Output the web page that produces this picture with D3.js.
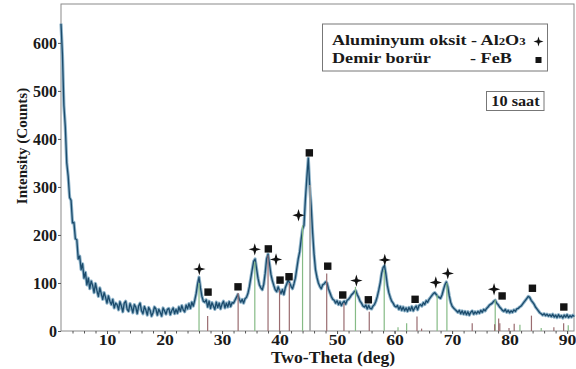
<!DOCTYPE html>
<html>
<head>
<meta charset="utf-8">
<script src="https://cdn.jsdelivr.net/npm/d3@7"></script>
<style>
  html, body { margin: 0; padding: 0; background: #fff; }
  svg { display: block; }
  text { font-family: "Liberation Serif", "Times New Roman", serif; font-weight: bold; fill: #1a1a1a; }
</style>
</head>
<body>
<svg id="chart" width="576" height="369"></svg>
<script>
// XRD scan: start angle and step of the measured counts (2θ, degrees)
const scanStart = 2.0;
const scanStep = 0.25;
const counts = [
  640, 575, 470, 425, 350, 322, 278, 272, 225, 226, 192, 190, 150, 156, 128, 140, 110, 122, 96, 110,
  88, 104, 95, 80, 99, 84, 72, 90, 78, 66, 80, 70, 58, 73, 62, 55, 66, 48, 58, 55,
  44, 61, 52, 40, 58, 62, 45, 41, 57, 49, 38, 55, 50, 36, 52, 58, 42, 36, 51, 44,
  33, 49, 43, 31, 38, 50, 46, 33, 45, 39, 31, 48, 42, 35, 45, 47, 34, 42, 48, 36,
  45, 37, 50, 41, 53, 44, 40, 54, 46, 57, 47, 60, 52, 64, 78, 98, 112, 90, 72, 62,
  60, 65, 50, 62, 47, 59, 52, 45, 60, 49, 58, 46, 56, 62, 48, 58, 50, 61, 51, 59,
  58, 64, 70, 76, 66, 60, 66, 58, 67, 70, 78, 92, 110, 128, 145, 150, 130, 110, 96, 90,
  86, 97, 120, 150, 160, 140, 118, 105, 95, 86, 82, 92, 84, 78, 86, 76, 90, 98, 106, 100,
  93, 88, 98, 110, 130, 150, 165, 190, 212, 220, 275, 320, 360, 300, 260, 205, 160, 128, 112, 100,
  93, 88, 96, 98, 102, 100, 88, 80, 72, 66, 64, 58, 63, 55, 61, 53, 59, 62, 56, 64,
  66, 70, 75, 78, 82, 84, 76, 70, 62, 58, 52, 50, 54, 46, 53, 47, 46, 52, 55, 62,
  72, 85, 100, 120, 132, 136, 118, 95, 80, 70, 62, 58, 52, 50, 53, 45, 51, 43, 50, 42,
  48, 41, 49, 43, 51, 42, 48, 52, 44, 53, 55, 52, 59, 55, 63, 60, 66, 70, 74, 78,
  80, 76, 72, 70, 68, 75, 86, 96, 102, 92, 74, 60, 52, 48, 45, 42, 39, 43, 36, 42,
  35, 41, 34, 40, 33, 39, 42, 35, 40, 36, 41, 37, 43, 39, 45, 42, 47, 50, 54, 56,
  58, 62, 64, 58, 55, 50, 47, 43, 41, 45, 39, 43, 38, 42, 39, 44, 41, 46, 47, 50,
  52, 56, 60, 64, 68, 72, 70, 64, 60, 56, 50, 46, 42, 38, 36, 33, 36, 32, 35, 31,
  34, 30, 35, 29, 33, 28, 34, 29, 32, 27, 33, 29, 34, 28, 32, 29, 33, 30
];

// Reference pattern sticks: [2θ, intensity]
const al2o3Sticks = [[26.0, 100], [35.7, 144], [44.0, 220], [53.2, 92], [58.2, 127], [60.6, 8], [62.1, 16],
  [67.4, 75], [69.1, 100], [77.5, 65], [81.8, 13], [85.5, 6], [90.2, 12]];
const febSticks = [[27.5, 31], [32.8, 79], [38.0, 158], [40.0, 85], [41.7, 100], [48.2, 120], [51.2, 58],
  [55.6, 40], [63.9, 30], [64.7, 5], [73.5, 16], [77.4, 14], [78.1, 26], [78.3, 16], [79.9, 6],
  [80.8, 15], [83.8, 32], [87.7, 8], [89.4, 16]];
const feSticks = [[45.3, 304]];

// Phase markers above the peaks: [2θ, counts]
const al2o3Marks = [[26.05, 129], [35.69, 170], [39.39, 149], [43.30, 241], [53.36, 105], [58.30, 148],
  [67.17, 101], [69.25, 120], [77.30, 87]];
const febMarks = [[27.57, 81], [32.78, 92], [38.05, 171], [40.09, 106], [41.65, 113], [45.18, 371],
  [48.38, 135], [50.99, 75], [55.44, 65], [63.57, 66], [78.70, 73], [83.97, 89], [89.43, 50]];

const xTicks = [10, 20, 30, 40, 50, 60, 70, 80, 90];
const yTicks = [0, 100, 200, 300, 400, 500, 600];

const svg = d3.select("#chart");
const plotLeft = 61, plotRight = 574, plotTop = 4, plotBottom = 331;

const x = d3.scaleLinear().domain([2, 91.2]).range([plotLeft, plotRight]);
const y = d3.scaleLinear().domain([0, 681]).range([plotBottom, plotTop]);

const scan = counts.map((c, i) => [scanStart + i * scanStep, c]);

// frame
svg.append("rect")
  .attr("x", plotLeft).attr("y", plotTop)
  .attr("width", plotRight - plotLeft).attr("height", plotBottom - plotTop)
  .attr("fill", "none").attr("stroke", "#8a8a8a").attr("stroke-width", 1);

// measured trace: soft halo plus dark line
const line = d3.line().x(d => x(d[0])).y(d => y(d[1]));
svg.append("path").datum(scan)
  .attr("d", line).attr("fill", "none")
  .attr("stroke", "#8fb4ca").attr("stroke-width", 3.2).attr("stroke-linejoin", "round");
svg.append("path").datum(scan)
  .attr("d", line).attr("fill", "none")
  .attr("stroke", "#1b4b6c").attr("stroke-width", 1.3).attr("stroke-linejoin", "round");

// reference sticks
function sticks(data, color, width) {
  svg.append("g").selectAll("line").data(data).join("line")
    .attr("x1", d => x(d[0])).attr("x2", d => x(d[0]))
    .attr("y1", y(0)).attr("y2", d => y(d[1]))
    .attr("stroke", color).attr("stroke-width", width);
}
sticks(al2o3Sticks, "#86bb86", 1.2);
sticks(febSticks, "#9a6c70", 1.2);
sticks(feSticks, "#a0a0a0", 1.6);

// four-point star
function starPath(r, ri) {
  const pts = [];
  for (let k = 0; k < 8; k++) {
    const a = k * Math.PI / 4 - Math.PI / 2;
    const rr = k % 2 === 0 ? r : ri;
    pts.push([rr * Math.cos(a), rr * Math.sin(a)]);
  }
  return "M" + pts.map(p => p[0].toFixed(2) + "," + p[1].toFixed(2)).join("L") + "Z";
}

svg.append("g").selectAll("path").data(al2o3Marks).join("path")
  .attr("d", starPath(6.2, 2))
  .attr("transform", d => `translate(${x(d[0])},${y(d[1])})`)
  .attr("fill", "#111");

svg.append("g").selectAll("rect").data(febMarks).join("rect")
  .attr("x", d => x(d[0]) - 3.7).attr("y", d => y(d[1]) - 3.7)
  .attr("width", 7.4).attr("height", 7.4)
  .attr("fill", "#141414");

// axes
const gx = svg.append("g").attr("transform", `translate(0,${plotBottom})`)
  .call(d3.axisBottom(x).tickValues(xTicks).tickSize(3).tickPadding(0));
gx.select(".domain").remove();
gx.selectAll("line").attr("stroke", "#555");
gx.selectAll("text").style("font-size", "15px").attr("fill", "#1a1a1a")
  .attr("transform", "scale(1.18,1)");

const gxm = svg.append("g").attr("transform", `translate(0,${plotBottom})`)
  .call(d3.axisBottom(x).tickValues(d3.range(4, 91, 2)).tickSize(2.5).tickFormat(""));
gxm.select(".domain").remove();
gxm.selectAll("line").attr("stroke", "#555");

const gy = svg.append("g").attr("transform", `translate(${plotLeft},0)`)
  .call(d3.axisLeft(y).tickValues(yTicks).tickSize(3).tickPadding(1));
gy.select(".domain").remove();
gy.selectAll("line").attr("stroke", "#555");
gy.selectAll("text").style("font-size", "16px").attr("fill", "#1a1a1a");

// text drawn at (px, py) and widened horizontally
function wideText(px, py, sx, size, anchor) {
  return svg.append("text")
    .attr("transform", `translate(${px},${py}) scale(${sx},1)`)
    .attr("text-anchor", anchor || "start")
    .style("font-size", size + "px");
}

// axis titles
wideText(333, 362.5, 1.1, 16, "middle").text("Two-Theta (deg)");

svg.append("text")
  .attr("transform", "translate(22,146) rotate(-90)")
  .attr("text-anchor", "middle")
  .attr("dominant-baseline", "central")
  .style("font-size", "15px")
  .text("Intensity (Counts)");

// legend
svg.append("rect").attr("x", 322.5).attr("y", 24).attr("width", 225).attr("height", 47)
  .attr("fill", "#fff").attr("stroke", "#777").attr("stroke-width", 1);
const t1 = wideText(332, 45, 1.17, 15.5);
t1.append("tspan").text("Aluminyum oksit - Al");
t1.append("tspan").style("font-size", "11px").text("2");
t1.append("tspan").text("O");
t1.append("tspan").style("font-size", "11px").text("3");
wideText(332, 63, 1.17, 15.5).text("Demir borür");
wideText(470, 63, 1.17, 15.5).text("- FeB");
svg.append("path").attr("d", starPath(5, 1.6)).attr("transform", "translate(538.5,41.5)").attr("fill", "#111");
svg.append("rect").attr("x", 535.5).attr("y", 57).attr("width", 6).attr("height", 6).attr("fill", "#141414");

// duration tag
svg.append("rect").attr("x", 486.5).attr("y", 91.5).attr("width", 57.5).attr("height", 19)
  .attr("fill", "#fff").attr("stroke", "#777").attr("stroke-width", 1);
wideText(515.5, 106, 1.05, 15.5, "middle").text("10 saat");
</script>
</body>
</html>
